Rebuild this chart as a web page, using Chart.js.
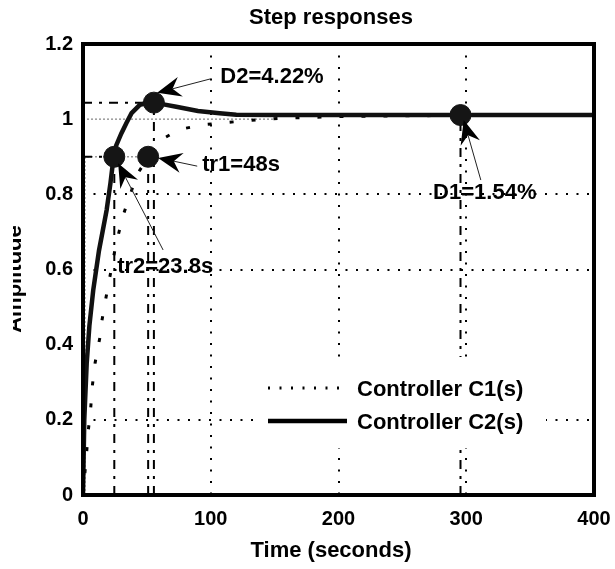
<!DOCTYPE html>
<html>
<head>
<meta charset="utf-8">
<script src="https://cdn.jsdelivr.net/npm/chart.js@4.4.1/dist/chart.umd.min.js"></script>
<style>
  html, body { margin: 0; padding: 0; background: #fff; }
  #wrap { width: 615px; height: 569px; }
</style>
</head>
<body>
<div id="wrap"><canvas id="chart" width="615" height="569"></canvas></div>
<script>
// step response (time in seconds, amplitude)
const c1Time = [0, 2.9, 4.1, 6, 7.3, 9.4, 11.5, 13.3, 14.6, 17.7, 21, 26, 31.5, 37, 42.5, 50.8, 62, 70, 77.6, 93.8, 109, 125, 140, 160, 200, 250, 300, 350, 400];
const c1Amp  = [0, 0.115, 0.17, 0.23, 0.29, 0.35, 0.39, 0.42, 0.46, 0.52, 0.58, 0.67, 0.745, 0.8, 0.854, 0.898, 0.947, 0.962, 0.974, 0.985, 0.99, 0.995, 0.999, 1.003, 1.007, 1.009, 1.01, 1.01, 1.01];

const c2Time = [0, 1, 2.9, 5, 8, 12.5, 18.5, 21.5, 24, 26, 30, 34, 38, 44.5, 50, 55, 62, 73, 90, 107, 120, 150, 200, 300, 400];
const c2Amp  = [0, 0.2, 0.35, 0.45, 0.545, 0.65, 0.758, 0.83, 0.9, 0.93, 0.962, 0.99, 1.016, 1.038, 1.043, 1.044, 1.04, 1.033, 1.022, 1.016, 1.012, 1.011, 1.011, 1.011, 1.011];

const timeTicks = [0, 100, 200, 300, 400];
const ampTicks = [0, 0.2, 0.4, 0.6, 0.8, 1, 1.2];

// characteristic points
const riseAmp = 0.9;
const tr2Time = 24.5;
const tr1Time = 51;
const peakTime = 55.5;
const peakAmp = 1.044;
const d1Time = 295.5;
const d1Amp = 1.011;
const markerTime = [tr2Time, tr1Time, peakTime, d1Time];
const markerAmp = [riseAmp, riseAmp, peakAmp, d1Amp];

// annotations: text, arrow tip, arrow tail, text anchor (data units)
const noteText = ['D2=4.22%', 'tr1=48s', 'tr2=23.8s', 'D1=1.54%'];
const noteTip = [[58, 1.07], [58.8, 0.897], [27.5, 0.883], [298, 0.998]];
const noteTail = [[99.6, 1.107], [89.4, 0.875], [62.7, 0.652], [311.4, 0.838]];
const noteAt = [[107.5, 1.112], [93.3, 0.878], [64.3, 0.607], [314.5, 0.804]];
const noteAlign = ['left', 'left', 'center', 'center'];

const legendLabels = ['Controller C1(s)', 'Controller C2(s)'];

const FONT = '"Liberation Sans", Arial, Helvetica, sans-serif';

function pts(xs, ys) {
    return xs.map((x, i) => ({ x: x, y: ys[i] }));
}

function guide(x1, y1, x2, y2, dash, color, width) {
    return {
        data: [{ x: x1, y: y1 }, { x: x2, y: y2 }],
        showLine: true,
        borderColor: color,
        borderWidth: width,
        borderDash: dash,
        pointRadius: 0,
        order: 5
    };
}

const dashDot = [9, 7, 3, 7];
const grayDot = [2, 2];

function drawArrow(ctx, tx, ty, hx, hy) {
    const ang = Math.atan2(hy - ty, hx - tx);
    const dx = Math.cos(ang), dy = Math.sin(ang);
    const L = 24, W = 10, N = 8;
    ctx.strokeStyle = '#222';
    ctx.lineWidth = 1;
    ctx.setLineDash([]);
    ctx.beginPath();
    ctx.moveTo(tx, ty);
    ctx.lineTo(hx - (L - N) * dx, hy - (L - N) * dy);
    ctx.stroke();
    ctx.fillStyle = '#000';
    ctx.beginPath();
    ctx.moveTo(hx, hy);
    ctx.lineTo(hx - L * dx - W * dy, hy - L * dy + W * dx);
    ctx.lineTo(hx - (L - N) * dx, hy - (L - N) * dy);
    ctx.lineTo(hx - L * dx + W * dy, hy - L * dy - W * dx);
    ctx.closePath();
    ctx.fill();
}

const decorPlugin = {
    id: 'decor',
    afterDatasetsDraw(chart) {
        const ctx = chart.ctx;
        const xs = chart.scales.x, ys = chart.scales.y;
        const a = chart.chartArea;

        // arrows and annotation text
        ctx.save();
        noteText.forEach((t, i) => {
            drawArrow(ctx,
                xs.getPixelForValue(noteTail[i][0]), ys.getPixelForValue(noteTail[i][1]),
                xs.getPixelForValue(noteTip[i][0]), ys.getPixelForValue(noteTip[i][1]));
            ctx.font = 'bold 22px ' + FONT;
            ctx.fillStyle = '#000';
            ctx.textAlign = noteAlign[i];
            ctx.textBaseline = 'middle';
            ctx.fillText(t, xs.getPixelForValue(noteAt[i][0]), ys.getPixelForValue(noteAt[i][1]));
        });
        ctx.restore();

        // legend inside the axes
        ctx.save();
        ctx.fillStyle = '#fff';
        ctx.fillRect(253, 357, 293, 91);
        ctx.strokeStyle = '#000';
        ctx.lineWidth = 3;
        ctx.setLineDash([2, 9.5]);
        ctx.beginPath();
        ctx.moveTo(268, 388);
        ctx.lineTo(342, 388);
        ctx.stroke();
        ctx.setLineDash([]);
        ctx.lineWidth = 4.5;
        ctx.beginPath();
        ctx.moveTo(268, 421);
        ctx.lineTo(347, 421);
        ctx.stroke();
        ctx.fillStyle = '#000';
        ctx.font = 'bold 22px ' + FONT;
        ctx.textAlign = 'left';
        ctx.textBaseline = 'middle';
        ctx.fillText(legendLabels[0], 357, 390);
        ctx.fillText(legendLabels[1], 357, 423);
        ctx.restore();

        // frame
        ctx.save();
        ctx.strokeStyle = '#000';
        ctx.lineWidth = 4;
        ctx.strokeRect(a.left, a.top, a.right - a.left, a.bottom - a.top);
        ctx.restore();
    },
    afterDraw(chart) {
        const ctx = chart.ctx;
        ctx.save();
        ctx.fillStyle = '#000';
        ctx.textAlign = 'center';
        ctx.textBaseline = 'middle';
        ctx.font = 'bold 22px ' + FONT;
        ctx.fillText('Step responses', 331, 18);
        ctx.fillText('Time (seconds)', 331, 551);
        // y label is cut off by the left edge in the original
        ctx.beginPath();
        ctx.rect(13, 0, 100, 569);
        ctx.clip();
        ctx.translate(21, 279);
        ctx.rotate(-Math.PI / 2);
        ctx.font = 'bold 22px ' + FONT;
        ctx.textBaseline = 'alphabetic';
        ctx.fillText('Amplitude', 0, 0);
        ctx.restore();
    }
};

function hideGrid(hidden) {
    return (c) => (c.tick && hidden.indexOf(+c.tick.value.toFixed(2)) >= 0) ? 'rgba(0,0,0,0)' : '#000';
}

const ctx = document.getElementById('chart').getContext('2d');
new Chart(ctx, {
    type: 'scatter',
    data: {
        datasets: [
            {
                label: 'markers',
                data: pts(markerTime, markerAmp),
                backgroundColor: '#151515',
                borderColor: '#151515',
                pointRadius: 10.5,
                order: 0
            },
            {
                label: legendLabels[1],
                data: pts(c2Time, c2Amp),
                showLine: true,
                borderColor: '#111',
                borderWidth: 4.5,
                pointRadius: 0,
                tension: 0,
                order: 1
            },
            {
                label: legendLabels[0],
                data: pts(c1Time, c1Amp),
                showLine: true,
                borderColor: '#000',
                borderWidth: 3,
                borderDash: [4, 18],
                borderCapStyle: 'butt',
                pointRadius: 0,
                tension: 0,
                order: 2
            },
            guide(0, riseAmp, tr2Time, riseAmp, dashDot, '#000', 2),
            guide(tr2Time, 0, tr2Time, riseAmp, dashDot, '#000', 2),
            guide(tr1Time, 0, tr1Time, riseAmp, dashDot, '#000', 2),
            guide(0, peakAmp, peakTime, peakAmp, dashDot, '#000', 2),
            guide(peakTime, 0, peakTime, peakAmp, dashDot, '#000', 2),
            guide(d1Time, 0, d1Time, d1Amp, dashDot, '#000', 2),
            guide(0, 1, 150, 1, grayDot, '#9a9a9a', 1.5),
            guide(0, riseAmp, tr1Time, riseAmp, grayDot, '#9a9a9a', 1.5),
            guide(1.5, 0, 1.5, riseAmp, grayDot, '#9a9a9a', 1.5)
        ]
    },
    options: {
        responsive: false,
        animation: false,
        events: [],
        layout: { padding: { top: 44, right: 21, left: 0, bottom: 0 } },
        plugins: {
            legend: { display: false },
            tooltip: { enabled: false },
            title: { display: false }
        },
        scales: {
            x: {
                type: 'linear',
                min: 0,
                max: 400,
                afterBuildTicks: (s) => { s.ticks = timeTicks.map(v => ({ value: v })); },
                afterFit: (s) => { s.height = 74; s.paddingLeft = 0; s.paddingRight = 0; },
                grid: { drawTicks: false, lineWidth: 2, color: hideGrid([0, 400]) },
                border: { display: false, dash: [2, 9.5] },
                ticks: {
                    color: '#000',
                    padding: 12,
                    maxRotation: 0,
                    font: { family: FONT, size: 20, weight: 'bold' }
                }
            },
            y: {
                type: 'linear',
                min: 0,
                max: 1.2,
                afterBuildTicks: (s) => { s.ticks = ampTicks.map(v => ({ value: v })); },
                afterFit: (s) => { s.width = 83; s.paddingTop = 0; s.paddingBottom = 0; },
                grid: { drawTicks: false, lineWidth: 2, color: hideGrid([0, 0.4, 1, 1.2]) },
                border: { display: false, dash: [2, 8.5] },
                ticks: {
                    color: '#000',
                    padding: 10,
                    callback: (v) => String(+v.toFixed(1)),
                    font: { family: FONT, size: 20, weight: 'bold' }
                }
            }
        }
    },
    plugins: [decorPlugin]
});
</script>
</body>
</html>
